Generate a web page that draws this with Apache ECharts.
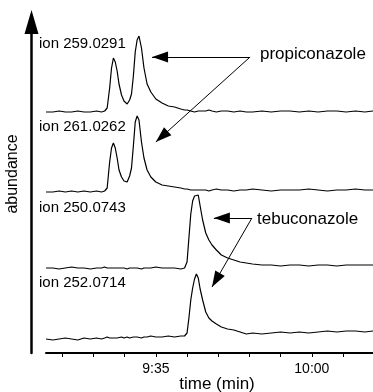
<!DOCTYPE html>
<html lang="en">
<head>
<meta charset="UTF-8">
<title>ion chromatograms</title>
<script src="https://cdn.jsdelivr.net/npm/echarts@6/dist/echarts.min.js"></script>
<style>html,body{margin:0;padding:0;background:#fff;}</style>
</head>
<body>
<div id="main" style="width:373px;height:392px;"></div>
<script>
// retention time in seconds (9:20 = 560 s)
let times = [557.4, 558.5, 559.5, 560.5, 561.5, 562.5, 563.5, 564.5, 565.5, 566.3,
    566.8, 567.2, 567.6, 567.9, 568.2, 568.5, 568.8, 569.1, 569.5, 569.9,
    570.4, 570.8, 571.1, 571.4, 571.7, 572.0, 572.3, 572.7, 573.1, 573.6,
    574.2, 575.0, 576.0, 577.0, 578.0, 579.0, 579.6, 580.0, 580.3, 580.6,
    580.9, 581.2, 581.5, 581.8, 582.1, 582.5, 583.0, 583.5, 584.0, 584.7,
    585.5, 586.5, 587.5, 588.5, 589.5, 590.5, 592.0, 593.5, 595.0, 596.5,
    598.0, 599.5, 601.0, 602.5, 604.0, 605.5, 607.0, 608.5, 609.8];

// abundance above each trace's own baseline
let ion259 = [0, 0, 1, 0, 0, 1, 0, 0, 1, 0, 1, 4, 24, 44, 54, 50, 41, 28, 17, 11,
    8, 12, 18, 36, 60, 72, 76, 64, 44, 28, 20, 13, 9, 6, 5, 3, 2, 2, 1,
    1, 1, 0, 1, 1, 0, 1, 1, 2, 1, 0, 1, 1, 0, 1, 0, 0, 1, 0, 1, 1, 0, 1, 0, 1, 1, 0, 1, 0, 1];
let ion261 = [0, 0, 1, 0, 1, 0, 1, 0, 1, 0, 1, 4, 30, 44, 49, 44, 34, 22, 15, 11,
    10, 16, 24, 46, 70, 76, 72, 50, 34, 22, 15, 10, 7, 6, 5, 4, 3, 3, 2,
    2, 3, 2, 1, 2, 3, 2, 2, 1, 2, 3, 2, 2, 1, 2, 2, 3, 2, 1, 2, 2, 2, 3, 2, 1, 2, 2, 3, 2, 2];
let ion250 = [0, 0, -1, 0, 1, 0, 0, -1, 0, 0, 1, 0, 0, -1, 0, 0, 0, 1, 0, 0,
    -1, 0, 0, 0, 1, 0, 0, -1, 0, 0, 0, 1, 0, 0, 0, -1, 0,
    6, 30, 54, 67, 72, 74, 73, 62, 48, 35, 28, 23, 18, 13, 10, 8, 6, 5, 4, 3,
    3, 2, 3, 3, 2, 3, 3, 2, 3, 3, 3, 3];
let ion252 = [-1, -2, -1, 0, -1, -2, 0, -1, 0, -1, 0, 1, 0, -1, 0, 1, 0, 0, 1, 0,
    1, 0, 1, 1, 0, 1, 1, 0, 1, 1, 2, 1, 1, 2, 1, 2, 2, 5, 20, 38,
    50, 59, 64, 60, 49, 38, 26, 20, 17, 14, 11, 9, 8, 6, 4, 5, 4, 5, 6, 5,
    6, 5, 6, 7, 6, 7, 7, 6, 7];

let traces = [ion259, ion261, ion250, ion252];
let ionNames = ['ion 259.0291', 'ion 261.0262', 'ion 250.0743', 'ion 252.0714'];
let baselines = [241, 161, 85, 15]; // vertical stacking offsets

let tickTimes = [560, 565, 570, 575, 580, 585, 590, 595, 600, 605];
let labelTimes = [575, 600];

// annotation arrows [from, to] in data coordinates
let propiArrows = [[[590.1, 296], [574.4, 296]], [[590.1, 296], [575.0, 211]]];
let tebuArrows = [[[590.4, 135], [584.3, 135]], [[590.4, 135], [584.0, 66]]];

let font = '"Liberation Sans", Arial, sans-serif';
let myChart = echarts.init(document.getElementById('main'));

function mmss(t) {
    let m = Math.floor(t / 60);
    let s = Math.round(t - m * 60);
    return m + ':' + (s < 10 ? '0' + s : s);
}

function arrowLine(list) {
    return {
        silent: true,
        animation: false,
        symbol: ['none', 'triangle'],
        symbolSize: [11, 16],
        symbolOffset: [0, [0, 8]],
        label: {show: false},
        emphasis: {disabled: true},
        lineStyle: {color: '#000', width: 1, type: 'solid'},
        data: list.map(function (a) {
            return [{coord: a[0]}, {coord: a[1]}];
        })
    };
}

let series = traces.map(function (vals, k) {
    let s = {
        name: ionNames[k],
        type: 'line',
        showSymbol: false,
        animation: false,
        silent: true,
        lineStyle: {color: '#000', width: 1.2},
        data: times.map(function (t, i) {
            return [t, baselines[k] + vals[i]];
        })
    };
    if (k === 0) s.markLine = arrowLine(propiArrows);
    if (k === 2) s.markLine = arrowLine(tebuArrows);
    return s;
});

let textTop = [43.7, 126.5, 208, 283];
let graphics = ionNames.map(function (n, k) {
    return {
        type: 'text', x: 39, y: textTop[k],
        style: {text: n, font: '15px ' + font, fill: '#000', verticalAlign: 'middle'}
    };
});
graphics.push({
    type: 'text', x: 260, y: 54,
    style: {text: 'propiconazole', font: '17px ' + font, fill: '#000', verticalAlign: 'middle'}
});
graphics.push({
    type: 'text', x: 257, y: 219,
    style: {text: 'tebuconazole', font: '17px ' + font, fill: '#000', verticalAlign: 'middle'}
});
graphics.push({
    type: 'text', x: 12.5, y: 174, rotation: Math.PI / 2,
    style: {text: 'abundance', font: '16px ' + font, fill: '#000', align: 'center', verticalAlign: 'middle'}
});

option = {
    backgroundColor: '#fff',
    animation: false,
    textStyle: {fontFamily: font},
    grid: {left: 46, right: 0, top: 22, bottom: 39, containLabel: false, outerBoundsMode: 'none'},
    xAxis: {
        type: 'value',
        min: 557.4,
        max: 609.8,
        axisLine: {lineStyle: {color: '#000', width: 2}},
        axisTick: {show: true, length: 4, customValues: tickTimes, lineStyle: {color: '#000', width: 1}},
        axisLabel: {customValues: labelTimes, formatter: mmss, color: '#000', fontSize: 14, fontFamily: font, margin: 9},
        splitLine: {show: false},
        name: 'time (min)',
        nameLocation: 'middle',
        nameGap: 23,
        nameMoveOverlap: false,
        nameTextStyle: {color: '#000', fontSize: 17, fontFamily: font, padding: [0, 0, 0, 15]}
    },
    yAxis: {
        type: 'value',
        min: 0,
        max: 331,
        offset: 14.5,
        axisLine: {
            show: true,
            symbol: ['none', 'triangle'],
            symbolSize: [14, 24],
            lineStyle: {color: '#000', width: 2.5}
        },
        axisTick: {show: false},
        axisLabel: {show: false},
        splitLine: {show: false}
    },
    graphic: graphics,
    series: series
};

myChart.setOption(option);
</script>
</body>
</html>
